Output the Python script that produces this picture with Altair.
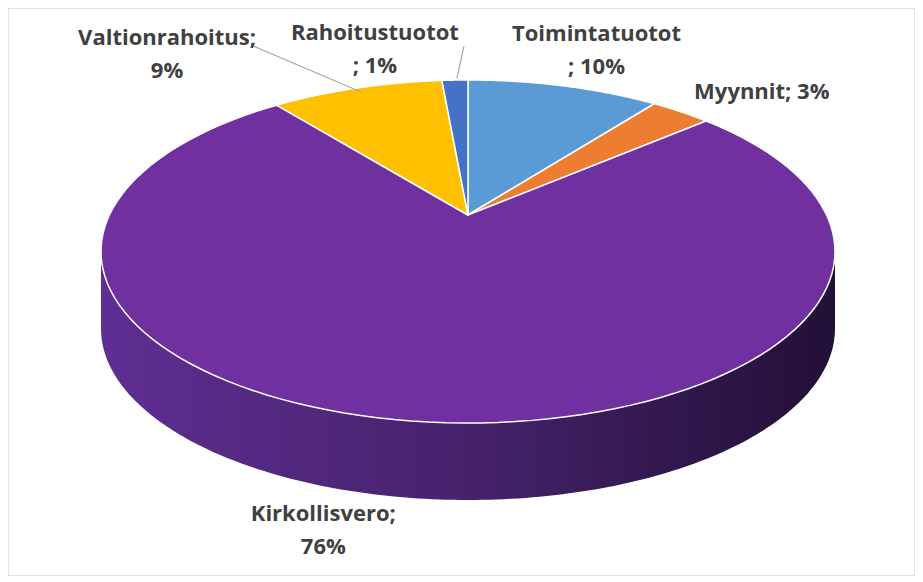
import altair as alt
import pandas as pd

# ---- data ----
categories = ["Toimintatuotot", "Myynnit", "Kirkollisvero", "Valtionrahoitus", "Rahoitustuotot"]
values = [10.3, 3.2, 75.9, 9.2, 1.4]
colors = ["#5B9BD5", "#ED7D31", "#7030A0", "#FFC000", "#4472C4"]

df = pd.DataFrame({"cat": categories, "val": values, "order": list(range(len(categories)))})

# ---- layout constants (pixels) ----
W, H = 907, 568
CX, CY = 460.0, 243.5      # ellipse centre inside plot area
RX, RY = 367.0, 171.5      # ellipse radii
DEPTH = 77.0 / RY          # side depth in y units
APEX = 36.5 / RY           # pie centre raised (perspective)
K = 0.19                   # perspective angle compression
N = 120                    # points per slice arc
M = 160                    # points per side edge

xmin = -CX / RX
xmax = xmin + W / RX
ymax = CY / RY
ymin = ymax - H / RY
xs = alt.Scale(domain=[xmin, xmax], nice=False, zero=False)
ys = alt.Scale(domain=[ymin, ymax], nice=False, zero=False)

base = (
    alt.Chart(df)
    .transform_joinaggregate(total="sum(val)")
    .transform_window(cum="sum(val)", sort=[alt.SortField("order")], frame=[None, 0])
    .transform_calculate(start="datum.cum - datum.val")
)

# ---- side wall (front of the big slice) ----
side_grad = alt.Gradient(
    gradient="linear",
    stops=[
        alt.GradientStop(color="#5f2e93", offset=0),
        alt.GradientStop(color="#46226c", offset=0.5),
        alt.GradientStop(color="#221036", offset=1),
    ],
    x1=0, x2=1, y1=0, y2=0,
)
side = (
    base.transform_filter(alt.datum.cat == "Kirkollisvero")
    .transform_calculate(pts=f"sequence(0, {2 * M + 2})")
    .transform_flatten(["pts"])
    .transform_calculate(j=f"datum.pts <= {M} ? datum.pts : {2 * M + 1} - datum.pts")
    .transform_calculate(ang=f"PI/2 + PI*datum.j/{M}")
    .transform_calculate(sx="sin(datum.ang)")
    .transform_calculate(sy=f"datum.pts <= {M} ? cos(datum.ang) : cos(datum.ang) - {DEPTH}")
    .mark_line(fill=side_grad, strokeWidth=0, interpolate="linear")
    .encode(
        x=alt.X("sx:Q", scale=xs, axis=None),
        y=alt.Y("sy:Q", scale=ys, axis=None),
        order=alt.Order("pts:Q"),
    )
)

# ---- top face slices ----
slices = (
    base.transform_calculate(pts=f"sequence(0, {N + 3})")
    .transform_flatten(["pts"])
    .transform_calculate(t0="2*PI*datum.start/datum.total")
    .transform_calculate(t1="2*PI*datum.cum/datum.total")
    .transform_calculate(
        th=f"datum.pts == {N + 1} ? 0 : (datum.pts == {N + 2} ? datum.t0 : datum.t0 + (datum.t1 - datum.t0)*datum.pts/{N})"
    )
    .transform_calculate(ph=f"datum.th - {K}*sin(datum.th)")
    .transform_calculate(px=f"datum.pts == {N + 1} ? 0 : sin(datum.ph)")
    .transform_calculate(py=f"datum.pts == {N + 1} ? {APEX} : cos(datum.ph)")
    .mark_line(stroke="white", strokeWidth=1.5, strokeJoin="round", interpolate="linear")
    .encode(
        x=alt.X("px:Q", scale=xs, axis=None),
        y=alt.Y("py:Q", scale=ys, axis=None),
        fill=alt.Fill("cat:N", scale=alt.Scale(domain=categories, range=colors), legend=None),
        detail="cat:N",
        order=alt.Order("pts:Q"),
    )
)

# ---- labels ----
edge = (
    base.transform_calculate(mid="2*PI*(datum.start + datum.val/2)/datum.total")
    .transform_calculate(mp=f"datum.mid - {K}*sin(datum.mid)")
    .transform_calculate(ex="sin(datum.mp)")
    .transform_calculate(ey="cos(datum.mp)")
    .transform_calculate(pct="format(datum.val/datum.total, '.0%')")
)

label_specs = [
    ("Toimintatuotot", "before", 33, -52),
    ("Myynnit", "single", 81, -20),
    ("Kirkollisvero", "after", -105, 92),
    ("Valtionrahoitus", "after", -190, -50),
    ("Rahoitustuotot", "before", -80, -47),
]
text_expr = {
    "before": "datum.cat + '\\n; ' + datum.pct",
    "after": "datum.cat + ';\\n' + datum.pct",
    "single": "datum.cat + '; ' + datum.pct",
}

label_layers = []
for cat, mode, dx, dy in label_specs:
    label_layers.append(
        edge.transform_filter(alt.datum.cat == cat)
        .transform_calculate(lbl=text_expr[mode])
        .mark_text(
            dx=dx, dy=dy, align="center", baseline="middle", lineBreak="\n",
            lineHeight=33, font="Open Sans", fontSize=22, fontWeight="bold", color="#404040",
        )
        .encode(
            x=alt.X("ex:Q", scale=xs, axis=None),
            y=alt.Y("ey:Q", scale=ys, axis=None),
            text="lbl:N",
        )
    )

leader_specs = [
    ("Valtionrahoitus", 4, 4, -104, -42),
    ("Rahoitustuotot", 2, -2, 9, -34),
]
leader_layers = []
for cat, xo, yo, x2o, y2o in leader_specs:
    leader_layers.append(
        edge.transform_filter(alt.datum.cat == cat)
        .mark_rule(color="#a6a6a6", strokeWidth=1.2, xOffset=xo, yOffset=yo, x2Offset=x2o, y2Offset=y2o)
        .encode(
            x=alt.X("ex:Q", scale=xs, axis=None),
            y=alt.Y("ey:Q", scale=ys, axis=None),
            x2=alt.X2("ex:Q"),
            y2=alt.Y2("ey:Q"),
        )
    )

chart = (
    alt.layer(side, slices, *leader_layers, *label_layers)
    .properties(width=W, height=H, padding=0, background="white")
    .configure_view(stroke="#d9d9d9", strokeWidth=1.5)
)

chart.save("out.html", embed_options={"renderer": "svg", "actions": False})
